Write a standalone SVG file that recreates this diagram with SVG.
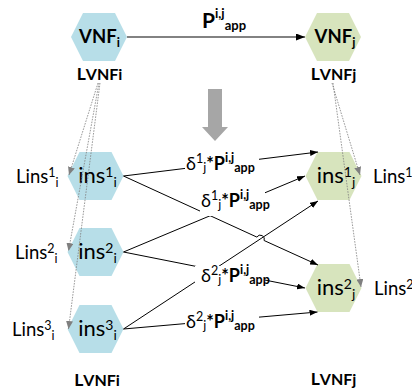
<svg xmlns="http://www.w3.org/2000/svg" xmlns:xlink="http://www.w3.org/1999/xlink" width="412" height="389" viewBox="0 0 412 389">
  <style>
    text { font-family: Lato, "Open Sans", "DejaVu Sans", sans-serif; fill: #000; }
    .hex-i { fill: #b7dee8; }
    .hex-j { fill: #d7e4bd; }
    .b { font-weight: bold; }
    .nm { font-size: 22px; }
    .sm { font-size: 14px; }
    .ln { font-size: 18.5px; }
    .lsm { font-size: 12.5px; }
    .el { font-size: 18px; }
    .es { font-size: 12.5px; }
    .cap { font-size: 17.5px; }
    .cap2 { font-size: 16px; }
    .conn { stroke: #000; stroke-width: 1; fill: none; marker-end: url(#ah); }
    .main { stroke: #595959; stroke-width: 1.5; fill: none; marker-end: url(#mh); }
    .dot { stroke: #7f7f7f; stroke-width: 0.8; stroke-dasharray: 1.6 1.2; fill: none; marker-end: url(#gh); }
    .bg { fill: #fff; }
  </style>
  <defs>
    <polygon id="hex" points="-28,0 -16,-24 16,-24 28,0 16,24 -16,24"/>
    <marker id="ah" viewBox="0 0 8 6" markerWidth="8" markerHeight="6" refX="8" refY="3" orient="auto" markerUnits="userSpaceOnUse">
      <path d="M0,0 L8,3 L0,6 z" fill="#000"/>
    </marker>
    <marker id="mh" viewBox="0 0 9 7" markerWidth="9" markerHeight="7" refX="9" refY="3.5" orient="auto" markerUnits="userSpaceOnUse">
      <path d="M0,0 L9,3.5 L0,7 z" fill="#000"/>
    </marker>
    <marker id="gh" viewBox="0 0 8 7" markerWidth="8" markerHeight="7" refX="8" refY="3.5" orient="auto" markerUnits="userSpaceOnUse">
      <path d="M0,0 L8,3.5 L0,7 z" fill="#7f7f7f"/>
    </marker>
  </defs>

  <rect width="412" height="389" fill="#fff"/>

  <!-- transition arrow between the two levels -->
  <polygon id="down-arrow" points="208,89 222,89 222,127 228,127 215,141 202,127 208,127" fill="#a6a6a6"/>

  <!-- nodes -->
  <g id="vnf-i">
    <use xlink:href="#hex" x="99" y="37" class="hex-i"/>
    <text x="99.5" y="43" text-anchor="middle" class="b" font-size="18.5">VNF<tspan font-size="12.5" dy="4">i</tspan></text>
    <text x="99.5" y="80" text-anchor="middle" class="b"><tspan class="cap">L</tspan><tspan class="cap2">VNFi</tspan></text>
  </g>
  <g id="vnf-j">
    <use xlink:href="#hex" x="333" y="37" class="hex-j"/>
    <text x="335" y="43" text-anchor="middle" class="b" font-size="18.5">VNF<tspan font-size="12.5" dy="4">j</tspan></text>
    <text x="333.5" y="80" text-anchor="middle" class="b"><tspan class="cap">L</tspan><tspan class="cap2">VNFj</tspan></text>
  </g>

  <g id="ins1-i">
    <use xlink:href="#hex" x="95.5" y="176" class="hex-i"/>
    <text x="97.5" y="183" text-anchor="middle" class="nm">ins<tspan class="sm" dy="-6">1</tspan><tspan class="sm" dy="10">i</tspan></text>
    <text x="16" y="183" class="ln">Lins<tspan class="lsm" dy="-6">1</tspan><tspan class="lsm" dy="10">i</tspan></text>
  </g>
  <g id="ins2-i">
    <use xlink:href="#hex" x="95.5" y="252" class="hex-i"/>
    <text x="97.5" y="259" text-anchor="middle" class="nm">ins<tspan class="sm" dy="-6">2</tspan><tspan class="sm" dy="10">i</tspan></text>
    <text x="15" y="259" class="ln">Lins<tspan class="lsm" dy="-6">2</tspan><tspan class="lsm" dy="10">i</tspan></text>
  </g>
  <g id="ins3-i">
    <use xlink:href="#hex" x="95.5" y="329" class="hex-i"/>
    <text x="97.5" y="336" text-anchor="middle" class="nm">ins<tspan class="sm" dy="-6">3</tspan><tspan class="sm" dy="10">i</tspan></text>
    <text x="12" y="336" class="ln">Lins<tspan class="lsm" dy="-6">3</tspan><tspan class="lsm" dy="10">i</tspan></text>
  </g>
  <g id="ins1-j">
    <use xlink:href="#hex" x="333.5" y="176" class="hex-j"/>
    <text x="336" y="183" text-anchor="middle" class="nm">ins<tspan class="sm" dy="-6">1</tspan><tspan class="sm" dy="10">j</tspan></text>
    <text x="373" y="183" class="ln">Lins<tspan class="lsm" dy="-6">1</tspan></text>
  </g>
  <g id="ins2-j">
    <use xlink:href="#hex" x="333.5" y="288" class="hex-j"/>
    <text x="336" y="295" text-anchor="middle" class="nm">ins<tspan class="sm" dy="-6">2</tspan><tspan class="sm" dy="10">j</tspan></text>
    <text x="374" y="295" class="ln">Lins<tspan class="lsm" dy="-6">2</tspan></text>
  </g>

  <g id="bottom-labels">
    <text x="97" y="386" text-anchor="middle" class="b"><tspan class="cap">L</tspan><tspan class="cap2">VNFi</tspan></text>
    <text x="333.5" y="385" text-anchor="middle" class="b"><tspan class="cap">L</tspan><tspan class="cap2">VNFj</tspan></text>
  </g>

  <!-- connectors -->
  <g id="connectors">
    <line class="main" x1="127" y1="37" x2="305" y2="37"/>
    <line class="conn" x1="123.5" y1="176" x2="318" y2="152"/>
    <path class="conn" d="M123.5,176 L256.9,237.1 A4,4 0 0 1 264.1,240.5 L318,265"/>
    <line class="conn" x1="123.5" y1="252" x2="305" y2="176"/>
    <line class="conn" x1="123.5" y1="252" x2="305" y2="288"/>
    <line class="conn" x1="123.5" y1="329" x2="317.5" y2="312"/>
    <line class="conn" x1="123.5" y1="329" x2="318" y2="201"/>

    <line class="dot" x1="98" y1="83" x2="69" y2="175"/>
    <line class="dot" x1="99" y1="83" x2="68.5" y2="251"/>
    <line class="dot" x1="100" y1="83" x2="68.5" y2="329"/>
    <line class="dot" x1="332" y1="83" x2="360" y2="175"/>
    <line class="dot" x1="333" y1="83" x2="361" y2="287"/>
  </g>

  <!-- connector labels -->
  <g id="labels">
    <text x="202" y="28" class="b" font-size="21">P<tspan font-size="13" dy="-10">i,j</tspan><tspan font-size="13" dy="12">app</tspan></text>

    <rect class="bg" x="185" y="152" width="74" height="24"/>
    <text x="186" y="170" class="el">δ<tspan class="es" dy="-7">1</tspan><tspan class="es" dy="9">j</tspan><tspan class="b" dy="-2">*P</tspan><tspan class="es b" dy="-8">i,j</tspan><tspan class="es b" dy="10">app</tspan></text>

    <rect class="bg" x="200" y="190" width="65" height="26"/>
    <text x="201" y="207" class="el">δ<tspan class="es" dy="-7">1</tspan><tspan class="es" dy="9">j</tspan><tspan class="b" dy="-2">*P</tspan><tspan class="es b" dy="-8">i,j</tspan><tspan class="es b" dy="10">app</tspan></text>

    <rect class="bg" x="195" y="266" width="70" height="25"/>
    <text x="201" y="282" class="el">δ<tspan class="es" dy="-7">2</tspan><tspan class="es" dy="9">j</tspan><tspan class="b" dy="-2">*P</tspan><tspan class="es b" dy="-8">i,j</tspan><tspan class="es b" dy="10">app</tspan></text>

    <rect class="bg" x="185" y="311" width="74" height="25"/>
    <text x="186" y="328" class="el">δ<tspan class="es" dy="-7">2</tspan><tspan class="es" dy="9">j</tspan><tspan class="b" dy="-2">*P</tspan><tspan class="es b" dy="-8">i,j</tspan><tspan class="es b" dy="10">app</tspan></text>
  </g>
</svg>
